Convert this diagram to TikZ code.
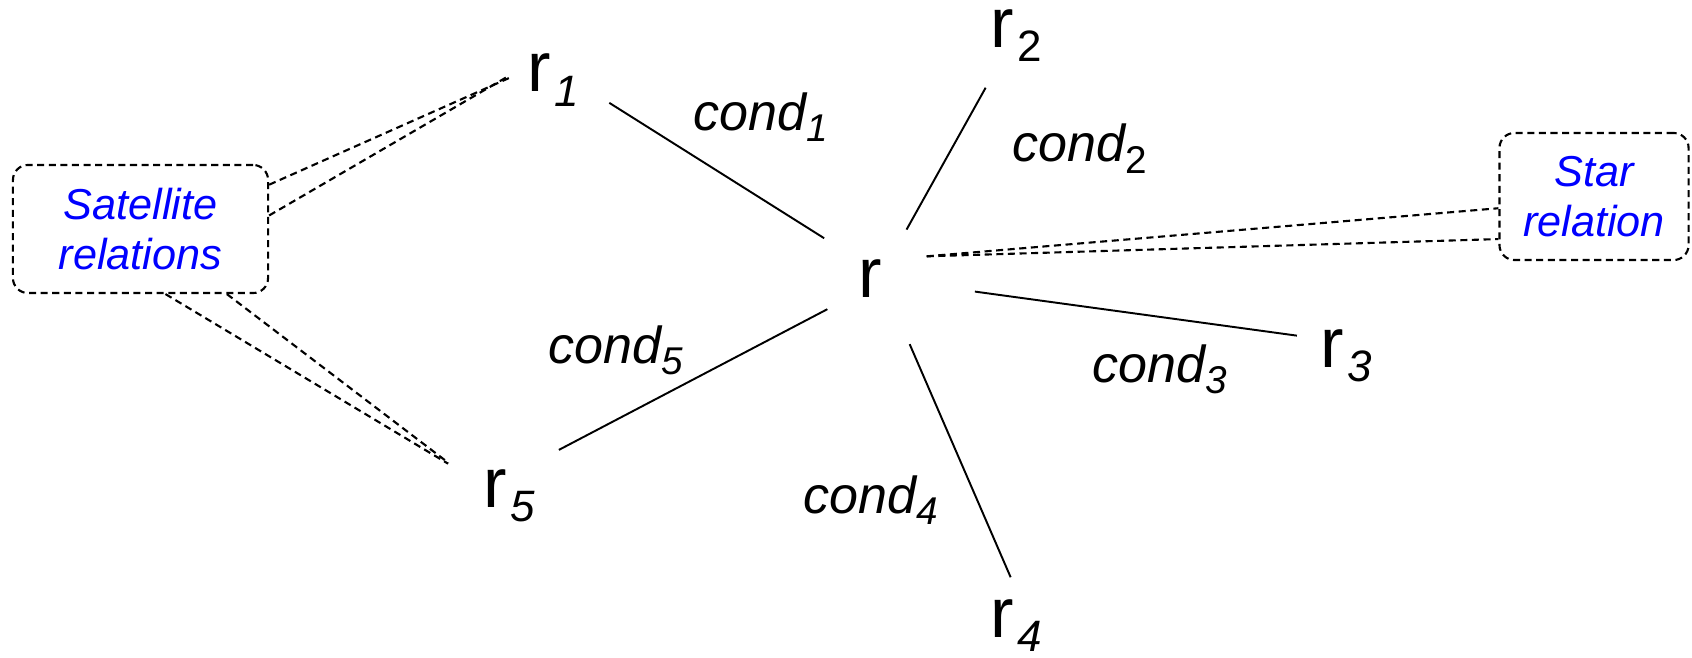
\documentclass[tikz,border=0pt]{standalone}
\usepackage{fontspec}
\setmainfont{Liberation Sans}
\usetikzlibrary{positioning}

% lowered indices: on the relations (r_1) and on the conditions (cond_1)
\newcommand{\rsub}[1]{\kern1pt\raisebox{-4pt}{\fontsize{12.5}{15}\selectfont #1}}
\newcommand{\csub}[1]{\raisebox{-3.3pt}{\fontsize{11}{13}\selectfont #1}}

\begin{document}
\begin{tikzpicture}[x=0.01cm, y=0.01cm, rel/.style={circle,inner sep=0pt,minimum size=1.2cm,anchor=base,font=\fontsize{20}{24}\selectfont}, cond/.style={anchor=base west,inner sep=0pt,font=\fontsize{14.8}{18}\selectfont\itshape}, note/.style={draw,dash pattern=on 2pt off 1.3pt,line width=0.6pt,rounded corners=0.15cm,inner sep=0pt,align=center,text=blue,font=\fontsize{12.3}{14.2}\selectfont\itshape}, link/.style={line width=0.55pt}, hint/.style={line width=0.6pt,dash pattern=on 2pt off 1.3pt}]
\useasboundingbox (0,0) rectangle (1692,657);
\node[rel] (r) at (870,360) {r};
\node[rel] (r1) at (553,565) {r\rsub{\itshape 1}};
\node[rel] (r2) at (1016,610) {r\rsub{2}};
\node[rel] (r3) at (1346,290) {r\rsub{\itshape 3}};
\node[rel] (r4) at (1016,20) {r\rsub{\itshape 4}};
\node[rel] (r5) at (509,150) {r\rsub{\itshape 5}};
\node[cond] (c1) at (693,527) {cond\csub{1}};
\node[cond] (c2) at (1012,495) {cond\csub{\upshape 2}};
\node[cond] (c3) at (1092,275) {cond\csub{3}};
\node[cond] (c4) at (803,144) {cond\csub{4}};
\node[cond] (c5) at (548,294) {cond\csub{5}};
\node[note,minimum width=2.55cm,minimum height=1.28cm] (sat) at (140.5,428) {Satellite\\relations};
\node[note,minimum width=1.89cm,minimum height=1.27cm] (star) at (1594,460.5) {Star\\relation};
\draw[link] (r1.-22) -- (r.139);
\draw[link] (r2.240) -- (r.53);
\draw[link,shorten <=0.45cm,shorten >=-0.08cm] (r.-7) -- (r3.160);
\draw[link,shorten <=0.165cm,shorten >=-0.13cm] (r.-57) -- (r4.100);
\draw[link,shorten <=-0.08cm,shorten >=0.07cm] (r.215) -- (r5.44);
\draw[hint,shorten >=-0.19cm] (sat.19) -- (r1.185);
\draw[hint,shorten >=-0.19cm] (sat.6) -- (r1.185);
\draw[hint,shorten >=0.08cm] (sat.-69) -- (r5.153);
\draw[hint,shorten >=0.08cm] (sat.-37) -- (r5.153);
\draw[hint] (r.21) -- (star.187);
\draw[hint] (r.21) -- (star.204);
\end{tikzpicture}
\end{document}
